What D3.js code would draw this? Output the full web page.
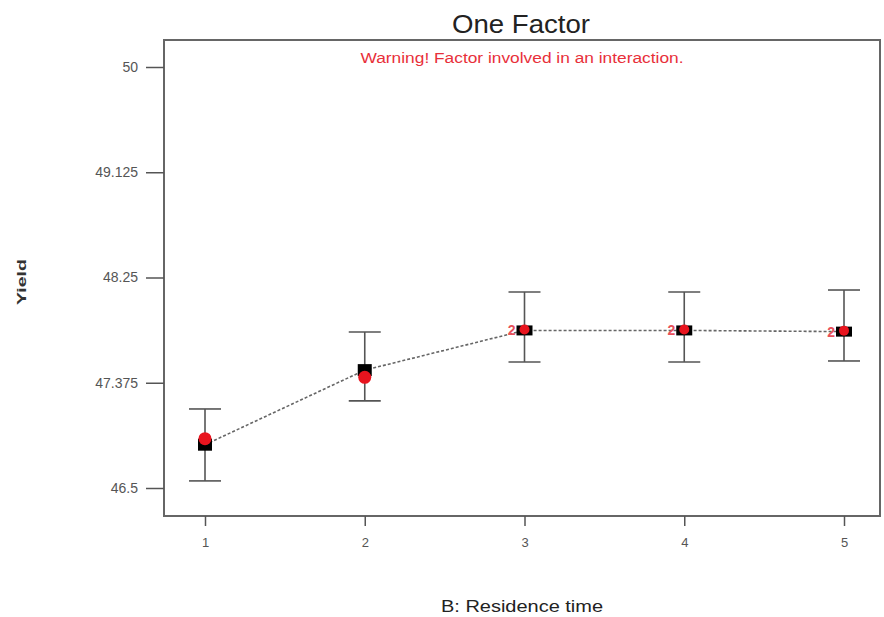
<!DOCTYPE html>
<html>
<head>
<meta charset="utf-8">
<script src="https://cdn.jsdelivr.net/npm/d3@7"></script>
<style>
  html, body { margin: 0; padding: 0; background: #fff; }
  svg { display: block; font-family: "Liberation Sans", Arial, sans-serif; }
</style>
</head>
<body>
<svg id="chart" width="884" height="617"></svg>
<script>
// Residence time levels (factor B)
const levels = [1, 2, 3, 4, 5];
// Predicted yield at each level
const predicted = [46.86, 47.48, 47.81, 47.81, 47.80];
// Observed design points
const observed = [46.91, 47.42, 47.81, 47.81, 47.80];
// Replicate count per design point
const replicates = [1, 1, 2, 2, 2];
// LSD interval bounds
const lsdHigh = [47.157, 47.797, 48.130, 48.130, 48.146];
const lsdLow = [46.559, 47.224, 47.548, 47.548, 47.556];
// Y-axis tick values
const yTicks = [46.5, 47.375, 48.25, 49.125, 50];

const svg = d3.select("#chart");
const frame = { left: 164, top: 40, right: 880, bottom: 516 };

const x = d3.scaleLinear().domain([1, 5]).range([205, 844]);
const y = d3.scaleLinear().domain([46.5, 50]).range([488, 67]);

// Plot frame
svg.append("rect")
  .attr("x", frame.left).attr("y", frame.top)
  .attr("width", frame.right - frame.left).attr("height", frame.bottom - frame.top)
  .attr("fill", "none").attr("stroke", "#666").attr("stroke-width", 2);

// Y axis
const yAxis = d3.axisLeft(y).tickValues(yTicks).tickFormat(d => String(d))
  .tickSize(18).tickPadding(8);
const gy = svg.append("g").attr("transform", `translate(${frame.left},0)`).call(yAxis);
gy.select(".domain").remove();
gy.selectAll(".tick line").attr("stroke", "#555").attr("stroke-width", 1.5);
gy.selectAll(".tick text").attr("fill", "#555").attr("font-size", 14)
  .attr("font-family", "Liberation Sans, Arial, sans-serif");

// X axis
const xAxis = d3.axisBottom(x).tickValues(levels).tickFormat(d3.format("d"))
  .tickSize(10).tickPadding(12);
const gx = svg.append("g").attr("transform", `translate(0,${frame.bottom})`).call(xAxis);
gx.select(".domain").remove();
gx.selectAll(".tick line").attr("stroke", "#555").attr("stroke-width", 1.5);
gx.selectAll(".tick text").attr("fill", "#555").attr("font-size", 13)
  .attr("font-family", "Liberation Sans, Arial, sans-serif");

// Prediction line
svg.append("path")
  .datum(levels.map((l, i) => [l, predicted[i]]))
  .attr("fill", "none").attr("stroke", "#666").attr("stroke-width", 1.6)
  .attr("stroke-dasharray", "3,2")
  .attr("d", d3.line().x(d => x(d[0])).y(d => y(d[1])));

// LSD bars
const bars = svg.append("g").attr("stroke", "#555").attr("stroke-width", 1.6);
levels.forEach((l, i) => {
  const cx = x(l);
  bars.append("line").attr("x1", cx).attr("x2", cx).attr("y1", y(lsdHigh[i])).attr("y2", y(lsdLow[i]));
  bars.append("line").attr("x1", cx - 16).attr("x2", cx + 16).attr("y1", y(lsdHigh[i])).attr("y2", y(lsdHigh[i]));
  bars.append("line").attr("x1", cx - 16).attr("x2", cx + 16).attr("y1", y(lsdLow[i])).attr("y2", y(lsdLow[i]));
});

// Predicted means (black squares)
svg.append("g").selectAll("rect").data(levels).join("rect")
  .attr("x", (d, i) => x(d) - (replicates[i] > 1 ? 8 : 7))
  .attr("y", (d, i) => y(predicted[i]) - (replicates[i] > 1 ? 5 : 6))
  .attr("width", (d, i) => replicates[i] > 1 ? 16 : 14)
  .attr("height", (d, i) => replicates[i] > 1 ? 10 : 12)
  .attr("fill", "#000");

// Design points (red dots)
svg.append("g").selectAll("circle").data(levels).join("circle")
  .attr("cx", d => x(d)).attr("cy", (d, i) => y(observed[i]) - (replicates[i] > 1 ? 1 : 0))
  .attr("r", (d, i) => replicates[i] > 1 ? 5 : 6.5)
  .attr("fill", "#e8141e");

// Replicate counts
svg.append("g").selectAll("text").data(levels.filter((l, i) => replicates[i] > 1)).join("text")
  .attr("x", d => x(d) - 9).attr("y", d => y(observed[levels.indexOf(d)]) + 5)
  .attr("text-anchor", "end").attr("font-size", 14).attr("font-weight", "bold")
  .attr("fill", "#e8505a")
  .text(d => replicates[levels.indexOf(d)]);

// Titles
svg.append("text").attr("x", 521).attr("y", 33).attr("text-anchor", "middle")
  .attr("font-size", 25).attr("fill", "#222")
  .attr("textLength", 138).attr("lengthAdjust", "spacingAndGlyphs").text("One Factor");
svg.append("text").attr("x", 522).attr("y", 63).attr("text-anchor", "middle")
  .attr("font-size", 14).attr("fill", "#e8303a")
  .attr("textLength", 323).attr("lengthAdjust", "spacingAndGlyphs")
  .text("Warning! Factor involved in an interaction.");
svg.append("text").attr("x", 522).attr("y", 612).attr("text-anchor", "middle")
  .attr("font-size", 16).attr("fill", "#222")
  .attr("textLength", 162).attr("lengthAdjust", "spacingAndGlyphs").text("B: Residence time");
svg.append("text").attr("transform", "translate(26,282) rotate(-90)").attr("text-anchor", "middle")
  .attr("font-size", 13).attr("font-weight", "bold").attr("fill", "#333")
  .attr("textLength", 46).attr("lengthAdjust", "spacingAndGlyphs").text("Yield");
</script>
</body>
</html>
